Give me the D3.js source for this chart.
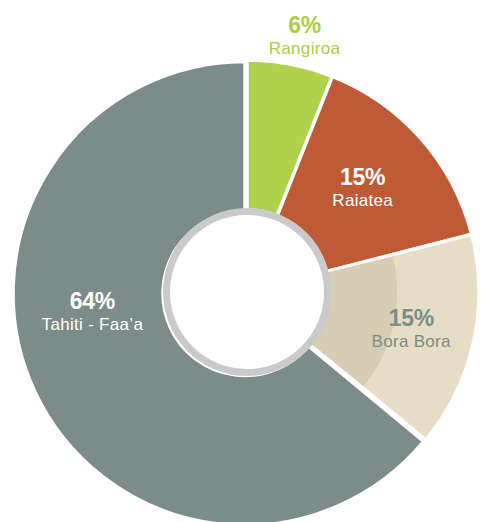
<!DOCTYPE html>
<html>
<head>
<meta charset="utf-8">
<script src="https://cdnjs.cloudflare.com/ajax/libs/d3/7.8.5/d3.min.js"></script>
<style>
  body { margin: 0; background: #fff; }
  text { font-family: "Liberation Sans", Arial, sans-serif; }
</style>
</head>
<body>
<div id="chart"></div>
<script>
// ************************** DATA **************************
var airports = ["Rangiroa", "Raiatea", "Bora Bora", "Tahiti - Faa\u2019a"];
var shares = [6, 15, 15, 64];
var colors = ["#afd14c", "#be5b36", "#e7dcc5", "#7b8c89"];
var labelColors = ["#a9cd48", "#ffffff", "#7b8c89", "#ffffff"];

// ************************** CANVAS **************************
var svgWidth = 481, svgHeight = 522;
var cx = 247, cy = 292;
var outerR = 232, ringR = 84, holeR = 77;

var svg = d3.select("#chart")
  .append("svg")
    .attr("width", svgWidth)
    .attr("height", svgHeight);

var chart = svg.append("g")
  .attr("transform", `translate(${cx}, ${cy})`);

var data = airports.map((name, i) => ({name: name, value: shares[i], color: colors[i], labelColor: labelColors[i]}));

var pie = d3.pie().sort(null).value(d => d.value);
var arcs = pie(data);

var arc = d3.arc().innerRadius(ringR - 2).outerRadius(outerR);

// ************************** SLICES **************************
var slices = chart.selectAll("g.slice")
  .data(arcs)
  .enter()
  .append("g")
    .attr("class", "slice")
    // the big slice is pulled out a little
    .attr("transform", d => d.data.name.startsWith("Tahiti") ? "translate(-2,1.5)" : null);

slices.append("path")
  .attr("d", arc)
  .attr("fill", d => d.data.color)
  .attr("stroke", "#fff")
  .attr("stroke-width", 3.5)
  .attr("stroke-linejoin", "miter");

// darker inner band on Bora Bora
var bora = arcs.find(d => d.data.name === "Bora Bora");
chart.append("path")
  .attr("d", d3.arc().innerRadius(ringR - 2).outerRadius(150)
    .startAngle(bora.startAngle + 0.012).endAngle(bora.endAngle - 0.012)())
  .attr("fill", "#d7ccb4");

// ************************** CENTER RING **************************
chart.append("circle").attr("r", ringR).attr("fill", "#cacaca");
chart.append("circle").attr("r", holeR).attr("fill", "#ffffff");

// ************************** LABELS **************************
// label polar placement (radius, angle in degrees from top)
var labelPlace = {
  "Rangiroa": [255.5, 13],
  "Raiatea": [151, 50],
  "Bora Bora": [170, 105],
  "Tahiti - Faa\u2019a": [157, 260]
};

var labels = chart.selectAll("g.label")
  .data(arcs)
  .enter()
  .append("g")
    .attr("class", "label")
    .attr("transform", d => {
      var p = labelPlace[d.data.name];
      var a = p[1] * Math.PI / 180;
      return `translate(${p[0] * Math.sin(a)}, ${-p[0] * Math.cos(a)})`;
    });

labels.append("text")
  .attr("text-anchor", "middle")
  .attr("y", -10)
  .attr("fill", d => d.data.labelColor)
  .attr("font-size", 23)
  .attr("font-weight", "bold")
  .attr("letter-spacing", -0.3)
  .text(d => d.data.value + "%");

labels.append("text")
  .attr("text-anchor", "middle")
  .attr("y", 11)
  .attr("fill", d => d.data.labelColor)
  .attr("font-size", 17)
  .attr("letter-spacing", 0.3)
  .text(d => d.data.name);
</script>
</body>
</html>
